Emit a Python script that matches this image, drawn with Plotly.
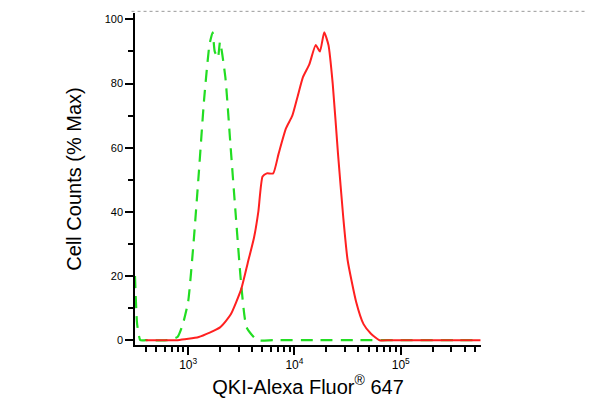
import plotly.graph_objects as go

# log10 of fluorescence intensity, counts (% max)
green_log = [2.50, 2.52, 2.55, 2.6, 2.8, 2.9, 2.95, 3.0, 3.05, 3.1, 3.15, 3.2, 3.23, 3.25, 3.28, 3.3, 3.35, 3.4, 3.45, 3.5, 3.55, 3.65, 3.8, 4.2, 4.6, 5.0, 5.5, 5.75]
green_val = [20, 5, 0, 0, 0, 1, 5, 12, 30, 52, 75, 92, 96, 90, 88, 93, 82, 60, 38, 17, 4, 0, 0, 0, 0, 0, 0, 0]
red_log = [2.6, 2.9, 3.1, 3.3, 3.4, 3.5, 3.56, 3.62, 3.66, 3.7, 3.74, 3.8, 3.85, 3.92, 3.98, 4.03, 4.08, 4.14, 4.2, 4.24, 4.28, 4.32, 4.36, 4.41, 4.46, 4.5, 4.58, 4.65, 4.72, 4.8, 4.9, 5.2, 5.75]
red_val = [0, 0, 1, 4, 8, 16, 24, 32, 40, 51, 52, 52, 58, 66, 70, 76, 82, 86, 92, 90, 96, 92, 80, 58, 38, 25, 12, 5, 2, 0, 0, 0, 0]

fig = go.Figure()
fig.add_trace(go.Scatter(x=[10**v for v in green_log], y=green_val, mode="lines",
                         line=dict(color="#22dd22", width=2.2, dash="12px,8px", shape="spline", smoothing=0.5)))
fig.add_trace(go.Scatter(x=[10**v for v in red_log], y=red_val, mode="lines",
                         line=dict(color="#ff2020", width=2, shape="spline", smoothing=0.5)))

fig.update_layout(
    width=593, height=412, showlegend=False,
    paper_bgcolor="white", plot_bgcolor="white",
    margin=dict(l=127, r=120, t=5, b=75),
    font=dict(family="Arial, Liberation Sans", color="black"),
    xaxis=dict(type="log", range=[2.5, 5.755], showgrid=False, zeroline=False,
               showline=True, linecolor="black", linewidth=1.5,
               ticks="outside", ticklen=8, tickwidth=2, tickcolor="black",
               tickvals=[1e3, 1e4, 1e5], ticktext=["10<sup>3</sup>", "10<sup>4</sup>", "10<sup>5</sup>"],
               tickfont=dict(size=12),
               minor=dict(ticks="outside", ticklen=5, tickcolor="black", dtick="D1", showgrid=False),
               title=dict(text="QKI-Alexa Fluor<sup>®</sup> 647", font=dict(size=20), standoff=2)),
    yaxis=dict(range=[-1.5, 102], showgrid=False, zeroline=False,
               showline=True, linecolor="black", linewidth=1.5,
               ticks="outside", ticklen=8, tickwidth=2, tickcolor="black",
               tickvals=[0, 20, 40, 60, 80, 100], tickfont=dict(size=11),
               minor=dict(ticks="outside", ticklen=5, tickcolor="black", dtick=10, showgrid=False),
               title=dict(text="Cell Counts (% Max)", font=dict(size=20), standoff=18)),
    shapes=[dict(type="line", xref="paper", yref="paper", x0=-0.01, x1=1.4, y0=1.005, y1=1.005,
                 line=dict(color="#999999", width=1, dash="dot"))],
)
fig.write_html("out.html")
